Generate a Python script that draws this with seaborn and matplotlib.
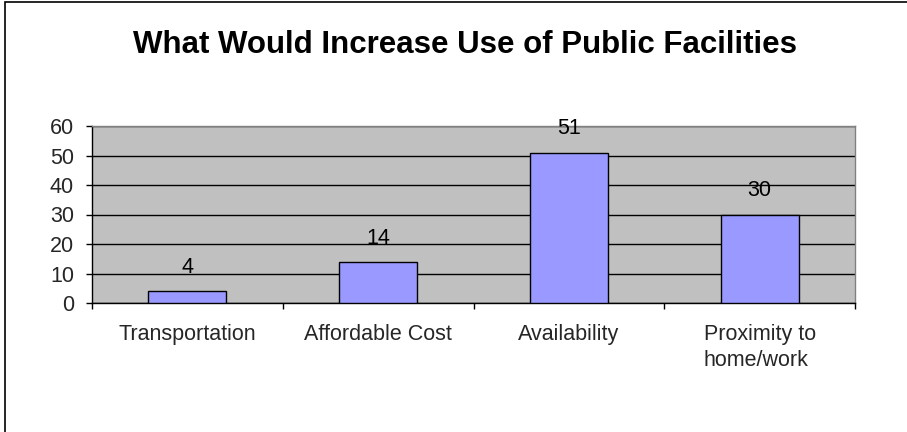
import matplotlib
matplotlib.use("Agg")
import matplotlib.pyplot as plt
from matplotlib.patches import Rectangle
from matplotlib.ticker import FixedLocator
import pandas as pd
import seaborn as sns

categories = ["Transportation", "Affordable Cost", "Availability", "Proximity to\nhome/work"]
values = [4, 14, 51, 30]
y_ticks = [0, 10, 20, 30, 40, 50, 60]

df = pd.DataFrame({"category": categories, "value": values})

sns.set_theme(style="white")
plt.rcParams["font.family"] = ["Liberation Sans", "DejaVu Sans"]

W, H = 907, 432
fig, ax = plt.subplots(figsize=(W / 100, H / 100), dpi=100)
fig.subplots_adjust(left=92 / W, right=855 / W, top=1 - 126 / H, bottom=1 - 303 / H)

sns.barplot(data=df, x="category", y="value", color="#9999FF", width=0.41,
            edgecolor="black", linewidth=1, saturation=1, ax=ax, zorder=3)

ax.set_facecolor("#C0C0C0")
ax.set_xlim(-0.5, len(categories) - 0.5)
ax.set_ylim(0, 60)
ax.set_yticks(y_ticks)
ax.yaxis.grid(True, color="black", linewidth=1)
ax.set_axisbelow(True)
ax.set_xlabel("")
ax.set_ylabel("")

# category separators as tick marks
ax.xaxis.set_minor_locator(FixedLocator([i - 0.5 for i in range(len(categories) + 1)]))
ax.tick_params(axis="x", which="major", length=0, pad=15, labelsize=15.5)
ax.tick_params(axis="x", which="minor", length=4.5, width=1, color="black", direction="out", bottom=True)
ax.tick_params(axis="y", length=4, width=1, color="black", direction="out", left=True, labelsize=15.5, pad=9)
for lbl in ax.get_xticklabels():
    lbl.set_linespacing(1.3)
    lbl.set_va("top")
    lbl.set_multialignment("left")

for side in ["left", "bottom"]:
    ax.spines[side].set_color("black")
    ax.spines[side].set_linewidth(1)
for side in ["top", "right"]:
    ax.spines[side].set_color("#808080")
    ax.spines[side].set_linewidth(1)

for i, v in enumerate(values):
    ax.annotate(f"{v}", (i, v), xytext=(0, 13), textcoords="offset points",
                ha="center", va="baseline", fontsize=15.5, color="black")

fig.text(465 / W, 1 - 53 / H, "What Would Increase Use of Public Facilities",
         ha="center", va="baseline", fontsize=22.5, fontweight="bold", color="black")

fig.patches.append(Rectangle((5 / W, -0.1), 1.2, 1 - 2 / H + 0.1, transform=fig.transFigure,
                             fill=False, edgecolor="black", linewidth=1.2))

fig.savefig("out.png", dpi=100, facecolor="white")
